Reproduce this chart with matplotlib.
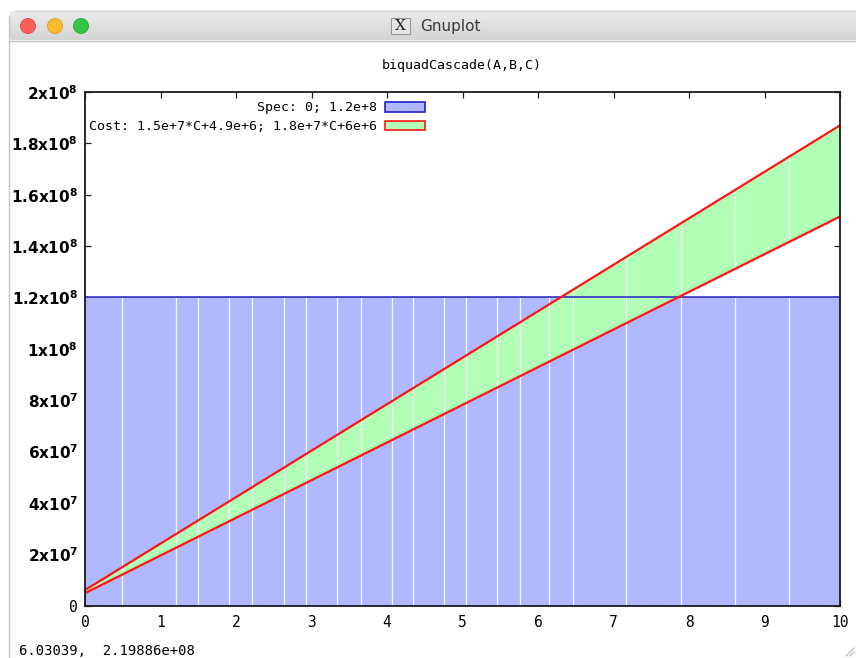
import numpy as np
import matplotlib
matplotlib.use('Agg')
import matplotlib.pyplot as plt
from matplotlib.patches import Patch, Rectangle, Circle, FancyBboxPatch

plt.rcParams['mathtext.fontset'] = 'dejavusans'

# chart data
spec_x = [0, 10]
spec_lo = [0, 0]
spec_hi = [1.2e8, 1.2e8]

cost_x = [0, 10]
cost_lo = [4.8e6, 1.515e8]
cost_hi = [6.0e6, 1.87e8]

# white seams gnuplot leaves between the filled polygons
seams = [0.49, 1.21, 1.50, 1.91, 2.21, 2.63, 2.93, 3.34, 3.65, 4.06, 4.35,
         4.76, 5.05, 5.46, 5.76, 6.15, 6.46, 7.17, 7.89, 8.61, 9.32]

xticks = [0, 1, 2, 3, 4, 5, 6, 7, 8, 9, 10]
yticks = [0, 2e7, 4e7, 6e7, 8e7, 1e8, 1.2e8, 1.4e8, 1.6e8, 1.8e8, 2e8]

title = 'biquadCascade(A,B,C)'
spec_label = 'Spec: 0; 1.2e+8'
cost_label = 'Cost: 1.5e+7*C+4.9e+6; 1.8e+7*C+6e+6'
status = '6.03039,  2.19886e+08'

blue_fill = '#b1b9fe'
blue_line = '#3030c4'
green_fill = '#b1feb7'
red_line = '#ff1414'
mono = 'DejaVu Sans Mono'
fs = 9.55


def ylab(v):
    if v == 0:
        return '0'
    e = int(np.floor(np.log10(v)))
    m = ('%g' % (v / 10 ** e))
    return r'$\mathbf{%sx10^{%d}}$' % (m, e)


W, H = 856, 658
fig = plt.figure(figsize=(W / 100, H / 100), dpi=100)
fig.patch.set_facecolor('white')

# window chrome drawn in pixel coordinates
bg = fig.add_axes([0, 0, 1, 1], zorder=0)
bg.set_xlim(0, W)
bg.set_ylim(H, 0)
bg.axis('off')

bar = FancyBboxPatch((9.5, 10.5), W + 20, 30, boxstyle='round,pad=0,rounding_size=5',
                     facecolor='none', edgecolor='none')
bg.add_patch(bar)
grad = np.linspace(0, 1, 64).reshape(-1, 1)
im = bg.imshow(grad, extent=[9.5, W, 40.5, 10.5], cmap=matplotlib.colors.LinearSegmentedColormap.from_list(
    'bar', ['#ececec', '#d4d4d4']), aspect='auto', interpolation='bilinear')
im.set_clip_path(bar)
bg.plot([9.5, W], [40.5, 40.5], color='#c2c2c2', lw=1)
bg.plot([9.5, 9.5], [16, H], color='#c6c6c6', lw=1)
bg.plot([15, W], [10.5, 10.5], color='#cfcfcf', lw=0.8)
bg.set_xlim(0, W)
bg.set_ylim(H, 0)

for cx, fc, ec in [(28, '#fc5f57', '#de4a42'), (55, '#fdbc2e', '#dea123'), (81, '#33c748', '#27aa35')]:
    bg.add_patch(Circle((cx, 26), 7.5, facecolor=fc, edgecolor=ec, lw=0.6))

bg.add_patch(Rectangle((391, 18), 19, 16, facecolor='#e6e6e6', edgecolor='#9a9a9a', lw=0.8))
bg.text(400.5, 26.5, 'X', family='DejaVu Serif', fontsize=11, ha='center', va='center', color='#222222')
bg.text(420, 26, 'Gnuplot', family='DejaVu Sans', fontsize=11, ha='left', va='center', color='#3a3a3a')

bg.text(462, 66, title, family=mono, fontsize=fs, ha='center', va='center')
bg.text(19, 651, status, family=mono, fontsize=10, ha='left', va='center')

bg.plot([846, 854], [656, 648], color='#b0b0b0', lw=0.8)
bg.plot([850, 854], [656, 652], color='#b0b0b0', lw=0.8)

# plot area
ax = fig.add_axes([85 / W, 1 - 605.5 / H, 755 / W, 513.5 / H], zorder=1)
ax.set_facecolor('none')

ax.fill_between(spec_x, spec_lo, spec_hi, color=blue_fill, lw=0, zorder=3)
ax.fill_between(cost_x, cost_lo, cost_hi, color=green_fill, lw=0, zorder=3.1)
for s in seams:
    ax.axvline(s, color='white', lw=0.9, alpha=0.9, zorder=3.5)
ax.plot(spec_x, spec_hi, color=blue_line, lw=1.2, zorder=4)
ax.plot(cost_x, cost_lo, color=red_line, lw=1.6, zorder=4)
ax.plot(cost_x, cost_hi, color=red_line, lw=1.6, zorder=4)

ax.set_xlim(0, 10)
ax.set_ylim(0, 2e8)
ax.set_xticks(xticks, labels=[str(t) for t in xticks])
ax.set_yticks(yticks, labels=[ylab(v) for v in yticks])
ax.tick_params(direction='in', top=True, right=True, length=4.5, width=0.9, color='#222222')
ax.tick_params(axis='x', pad=7, labelsize=10.5)
ax.tick_params(axis='y', pad=5, labelsize=11)
for lab in ax.get_xticklabels():
    lab.set_family(mono)
ylabs = ax.get_yticklabels()
ylabs[0].set_family(mono)
ylabs[0].set_fontsize(10.5)
for sp in ax.spines.values():
    sp.set_zorder(5)
    sp.set_linewidth(1.3)
    sp.set_color('#1a1a1a')

handles = [Patch(facecolor=blue_fill, edgecolor='#2323c8', lw=1.2),
           Patch(facecolor=green_fill, edgecolor=red_line, lw=1.2)]
leg = ax.legend(handles, [spec_label, cost_label], loc='upper right',
                bbox_to_anchor=(425 / W, 1 - 101.5 / H), bbox_transform=fig.transFigure,
                frameon=False, markerfirst=False, borderpad=0, borderaxespad=0,
                handlelength=3.0, handleheight=0.7, handletextpad=0.6, labelspacing=0.4,
                prop={'family': mono, 'size': fs})
leg.set_zorder(6)

fig.savefig('out.png', dpi=100)
